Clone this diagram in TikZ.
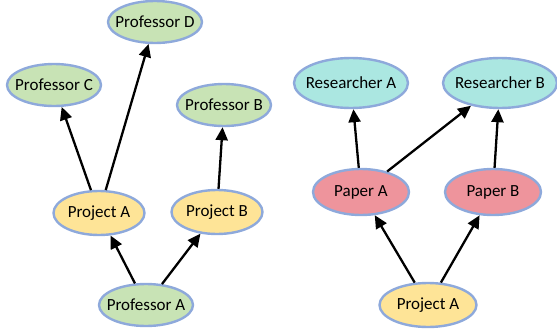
\documentclass[tikz,border=0pt]{standalone}
\usepackage{fontspec}
\setmainfont{Carlito}
\usetikzlibrary{shapes.geometric,arrows.meta}
\definecolor{rim}{HTML}{8EA9DB}
\definecolor{profgreen}{HTML}{C8E3B5}
\definecolor{projyellow}{HTML}{FEE497}
\definecolor{paperpink}{HTML}{EE949C}
\definecolor{rescyan}{HTML}{ABE7E1}
\tikzset{
  blob/.style={ellipse, draw=rim, line width=2.4pt, inner ysep=0pt, inner xsep=-9pt, font=\fontsize{17}{20}\selectfont},
  prof/.style={blob, fill=profgreen, minimum width=94pt, minimum height=42pt},
  proj/.style={blob, fill=projyellow, minimum width=91pt, minimum height=44pt},
  paper/.style={blob, fill=paperpink, minimum width=96pt, minimum height=46pt},
  res/.style={blob, fill=rescyan, minimum width=114pt, minimum height=50pt},
  link/.style={line width=2.3pt, -{Triangle[length=13pt,width=12pt]}}
}
\begin{document}
\begin{tikzpicture}[x=1pt,y=-1pt]
                \useasboundingbox (0,0) rectangle (557,332);
                \node[prof] (profD) at (155,22) {Professor D};
                \node[prof] (profC) at (54,85) {Professor C};
                \node[prof] (profB) at (224,105) {Professor B};
                \node[proj] (projA) at (99,213) {Project A};
                \node[proj] (projB) at (217,212) {Project B};
                \node[prof] (profA) at (146,305) {Professor A};

                \node[res] (resA) at (351,83) {Researcher A};
                \node[res] (resB) at (500,83) {Researcher B};
                \node[paper] (papA) at (361,192) {Paper A};
                \node[paper] (papB) at (493,192) {Paper B};
                \node[proj, minimum width=97pt] (projR) at (428,305) {Project A};

                \draw[link] (profA) to (projA);
                \draw[link] (profA) to (projB);
                \draw[link] (projA) to (profC);
                \draw[link] (projA) to (profD);
                \draw[link] (projB) to (profB);

                \draw[link] (projR) to (papA);
                \draw[link] (projR) to (papB);
                \draw[link] (papA) to (resA);
                \draw[link] (papA) to (resB);
                \draw[link] (papB) to (resB);
            \end{tikzpicture}
\end{document}
